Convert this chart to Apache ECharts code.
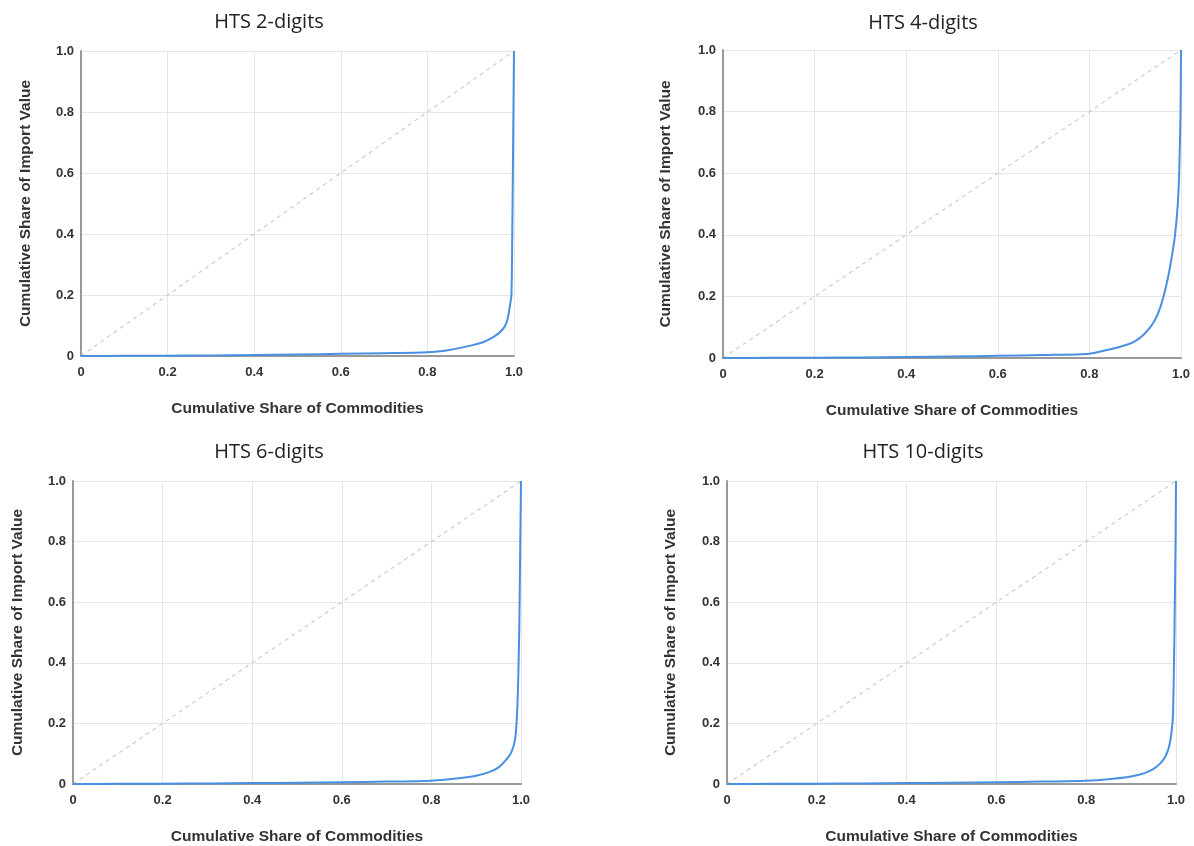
<!DOCTYPE html>
<html>
<head>
<meta charset="utf-8">
<script src="https://cdn.jsdelivr.net/npm/echarts@6/dist/echarts.min.js"></script>
<style>html,body{margin:0;padding:0;background:#fff}#c{width:1194px;height:846px}</style>
</head>
<body>
<div id="c"></div>
<script>
const panelTitles = ["HTS 2-digits", "HTS 4-digits", "HTS 6-digits", "HTS 10-digits"];
const xAxisName = "Cumulative Share of Commodities";
const yAxisName = "Cumulative Share of Import Value";

const hts2X = [0,0.1,0.2,0.3,0.4,0.5,0.6,0.7,0.8,0.85,0.9,0.93,0.95,0.965,0.977,0.985,0.99,0.994,0.996,0.998,1.0];
const hts2Y = [0,0.0005,0.001,0.002,0.003,0.005,0.007,0.009,0.012,0.02,0.034,0.046,0.06,0.075,0.093,0.12,0.16,0.2,0.4,0.7,1.0];

const hts4X = [0,0.1,0.2,0.3,0.4,0.5,0.6,0.7,0.8,0.85,0.88,0.9,0.92,0.94,0.955,0.97,0.98,0.987,0.993,0.996,0.999,1.0];
const hts4Y = [0,0.0005,0.001,0.002,0.003,0.005,0.007,0.01,0.014,0.03,0.042,0.055,0.078,0.115,0.165,0.25,0.33,0.4,0.5,0.6,0.8,1.0];

const hts6X = [0,0.1,0.2,0.3,0.4,0.5,0.6,0.7,0.8,0.85,0.9,0.93,0.95,0.97,0.98,0.987,0.99,0.993,0.996,0.998,1.0];
const hts6Y = [0,0.0005,0.001,0.002,0.003,0.004,0.006,0.008,0.011,0.017,0.027,0.04,0.055,0.085,0.11,0.15,0.2,0.3,0.5,0.75,1.0];

const hts10X = [0,0.1,0.2,0.3,0.4,0.5,0.6,0.7,0.8,0.85,0.9,0.93,0.95,0.965,0.976,0.984,0.989,0.993,0.995,0.997,0.999,1.0];
const hts10Y = [0,0.0005,0.001,0.002,0.003,0.004,0.006,0.008,0.011,0.016,0.025,0.036,0.05,0.068,0.09,0.12,0.16,0.22,0.35,0.55,0.8,1.0];

const equalityX = [0, 1];
const equalityY = [0, 1];

const curvesX = [hts2X, hts4X, hts6X, hts10X];
const curvesY = [hts2Y, hts4Y, hts6Y, hts10Y];

const grids = [
  {left: 81, top: 51, width: 433, height: 305},
  {left: 723, top: 50, width: 458, height: 308},
  {left: 73, top: 481, width: 448, height: 304},
  {left: 727, top: 481, width: 449, height: 304}
];
const titlePos = [[264, 7], [918, 8], [264, 437], [918, 437]];
const yNameGap = [47, 49, 47, 48];

const fmt = v => v === 0 ? '0' : v.toFixed(1);
const labelStyle = {color: '#333', fontWeight: 'bold', fontSize: 13, fontFamily: 'Liberation Sans, Arial, sans-serif'};
const nameStyle = {color: '#333', fontWeight: 'bold', fontSize: 15.5, fontFamily: 'Liberation Sans, Arial, sans-serif'};

const option = {
  animation: false,
  backgroundColor: '#fff',
  title: panelTitles.map((t, i) => ({
    text: t, left: titlePos[i][0], top: titlePos[i][1], textAlign: 'center',
    textStyle: {fontSize: 20, fontWeight: 'normal', color: '#222', fontFamily: 'Open Sans, Noto Sans, sans-serif'}
  })),
  grid: grids,
  xAxis: grids.map((g, i) => ({
    type: 'value', gridIndex: i, min: 0, max: 1, interval: 0.2,
    name: xAxisName, nameLocation: 'middle', nameGap: 45, nameTextStyle: nameStyle,
    axisLine: {show: true, lineStyle: {color: '#999', width: 2}},
    axisTick: {show: false},
    axisLabel: Object.assign({formatter: fmt, margin: 10}, labelStyle),
    splitLine: {show: true, lineStyle: {color: '#e6e6e6', width: 1}}
  })),
  yAxis: grids.map((g, i) => ({
    type: 'value', gridIndex: i, min: 0, max: 1, interval: 0.2,
    name: yAxisName, nameLocation: 'middle', nameGap: yNameGap[i], nameTextStyle: nameStyle,
    axisLine: {show: true, lineStyle: {color: '#999', width: 2}},
    axisTick: {show: false},
    axisLabel: Object.assign({formatter: fmt, margin: 7}, labelStyle),
    splitLine: {show: true, lineStyle: {color: '#e6e6e6', width: 1}}
  })),
  series: []
};

for (let i = 0; i < 4; i++) {
  option.series.push({
    type: 'line', xAxisIndex: i, yAxisIndex: i, symbol: 'none', silent: true,
    data: equalityX.map((x, k) => [x, equalityY[k]]),
    lineStyle: {color: '#cccccc', width: 1.2, type: [4, 4]}
  });
  option.series.push({
    type: 'line', xAxisIndex: i, yAxisIndex: i, symbol: 'none',
    smooth: 0.25,
    data: curvesX[i].map((x, k) => [x, curvesY[i][k]]),
    lineStyle: {color: '#4a90e2', width: 2, join: 'round'}
  });
}

echarts.init(document.getElementById('c'), null, {renderer: 'canvas'}).setOption(option);
</script>
</body>
</html>
